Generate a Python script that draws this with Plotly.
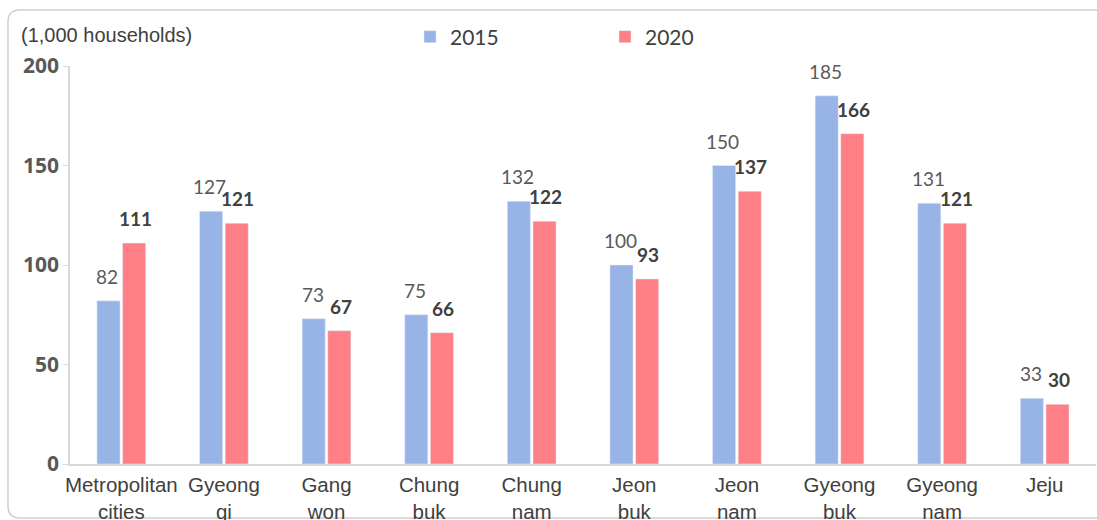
import plotly.graph_objects as go

categories = ["Metropolitan<br>cities", "Gyeong<br>gi", "Gang<br>won", "Chung<br>buk", "Chung<br>nam",
              "Jeon<br>buk", "Jeon<br>nam", "Gyeong<br>buk", "Gyeong<br>nam", "Jeju"]
values_2015 = [82, 127, 73, 75, 132, 100, 150, 185, 131, 33]
values_2020 = [111, 121, 67, 66, 122, 93, 137, 166, 121, 30]
y_ticks = [0, 50, 100, 150, 200]
unit_label = "(1,000 households)"

BLUE = "#98B3E6"
RED = "#FF7F86"
NUM_FONT = "Lato"
TXT_FONT = "Liberation Sans"

fig = go.Figure()
fig.add_trace(go.Bar(name="2015", x=categories, y=values_2015, marker_color=BLUE))
fig.add_trace(go.Bar(name="2020", x=categories, y=values_2020, marker_color=RED))

annotations = []
for c, v in zip(categories, values_2015):
    annotations.append(dict(x=c, y=v, xref="x", yref="y", text=str(v), showarrow=False,
                            xshift=-14, yshift=11, yanchor="bottom",
                            font=dict(family=NUM_FONT, size=19, color="#595959")))
for c, v in zip(categories, values_2020):
    annotations.append(dict(x=c, y=v, xref="x", yref="y", text="<b>" + str(v) + "</b>", showarrow=False,
                            xshift=14, yshift=11, yanchor="bottom",
                            font=dict(family=NUM_FONT, size=19, color="#404040")))
annotations.append(dict(x=(19 - 70) / 1026, y=1.0 + (66 - 35) / 398, xref="paper", yref="paper", text=unit_label,
                        showarrow=False, xanchor="left", yanchor="middle",
                        font=dict(family=TXT_FONT, size=20, color="#404040")))


def px(x):
    return (x - 70) / 1026


def py(y):
    return (464 - y) / 398


pts = [("M", 8, 506), ("L", 8, 22), ("Q", 8, 10, 20, 10), ("L", 1110, 10), ("L", 1110, 518),
       ("L", 20, 518), ("Q", 8, 518, 8, 506)]
parts = []
for p in pts:
    cmd = p[0]
    coords = p[1:]
    s = cmd + " " + " ".join("%f,%f" % (px(coords[i]), py(coords[i + 1])) for i in range(0, len(coords), 2))
    parts.append(s)
border_path = " ".join(parts) + " Z"

shapes = [dict(type="path", xref="paper", yref="paper", path=border_path,
               line=dict(color="#D0D0D0", width=1.5), layer="below")]

fig.update_layout(
    width=1097, height=520,
    margin=dict(l=70, r=1, t=66, b=56),
    paper_bgcolor="white", plot_bgcolor="white",
    barmode="group", bargap=0.5, bargroupgap=0.1,
    showlegend=True,
    legend=dict(orientation="h", x=(410 - 70) / 1026, y=1.0 + (66 - 37) / 398,
                xanchor="left", yanchor="middle", itemwidth=30,
                entrywidth=150, entrywidthmode="pixels",
                font=dict(family=NUM_FONT, size=21, color="#404040"),
                bgcolor="rgba(0,0,0,0)"),
    annotations=annotations,
    shapes=shapes,
    xaxis=dict(showline=True, linecolor="#D9D9D9", linewidth=1.5, ticks="", showgrid=False,
               ticklabelstandoff=2, automargin=False,
               tickfont=dict(family=TXT_FONT, size=20.5, color="#404040"), range=[-0.5, 9.5]),
    yaxis=dict(range=[0, 200], tickvals=y_ticks, showgrid=False, showline=True, automargin=False,
               linecolor="#D9D9D9", linewidth=1.5, ticks="outside", ticklen=5, tickcolor="#D9D9D9",
               tickfont=dict(family="Noto Sans", size=21, color="#595959", weight="bold"), zeroline=False),
)

fig.write_html("out.html", config={"displayModeBar": False},
               post_script="document.body.style.margin='0';document.body.style.overflow='hidden';")
